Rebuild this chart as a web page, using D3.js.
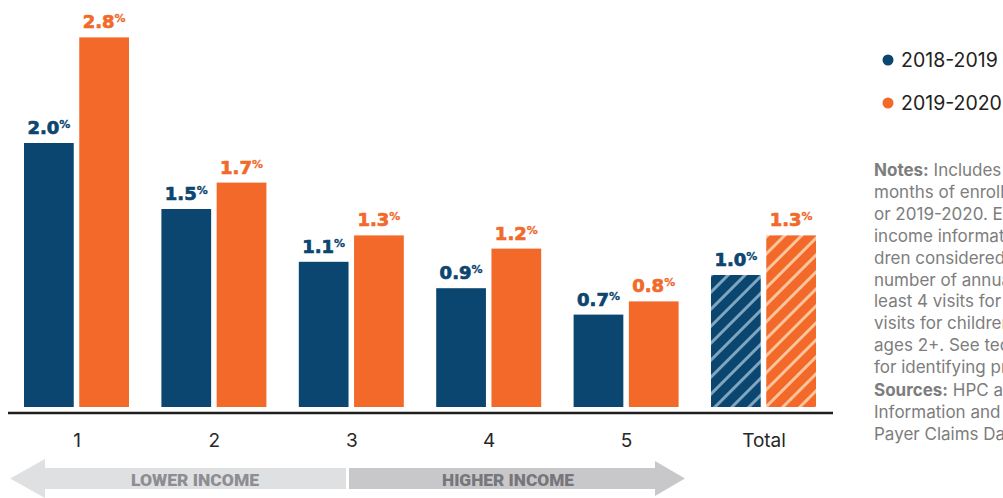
<!DOCTYPE html>
<html>
<head>
<meta charset="utf-8">
<script src="https://cdn.jsdelivr.net/npm/d3@7"></script>
<style>
  body { margin: 0; background: #fff; }
  #chart { display: block; width: 1003px; height: 498px; }
</style>
</head>
<body>
<svg id="chart" width="1003" height="498"></svg>
<script>
var categories = ["1", "2", "3", "4", "5", "Total"];
var seriesNames = ["2018-2019", "2019-2020"];
var values2018 = [2.0, 1.5, 1.1, 0.9, 0.7, 1.0];
var values2019 = [2.8, 1.7, 1.3, 1.2, 0.8, 1.3];
var incomeLabels = ["LOWER INCOME", "HIGHER INCOME"];
var noteLines = [
  ["Notes:", " Includes children with at least 12"],
  ["", "months of enrollment in either 2018-2019"],
  ["", "or 2019-2020. Excludes children without"],
  ["", "income information. Analysis limited to chil-"],
  ["", "dren considered high-utilizers based on"],
  ["", "number of annual visits: children with at"],
  ["", "least 4 visits for ages 0-1 and at least 3"],
  ["", "visits for children ages 1-2, and 2 visits for"],
  ["", "ages 2+. See technical appendix for methods"],
  ["", "for identifying primary care visits."]
];
var sourceLines = [
  ["Sources:", " HPC analysis of Center for Health"],
  ["", "Information and Analysis Massachusetts All-"],
  ["", "Payer Claims Database, 2018-2020."]
];

var color = {
  "2018-2019": "#0b4670",
  "2019-2020": "#f2692a"
};
var labelColor = {
  "2018-2019": "#0b4570",
  "2019-2020": "#f26a2b"
};
var stripeColor = {
  "2018-2019": "#7fa6c1",
  "2019-2020": "#fbc49c"
};

var svg = d3.select("#chart"),
    baseY = 407,
    axisY = 413;

var data = categories.map(function(c, i) {
  return {cat: c, values: [
    {id: seriesNames[0], v: values2018[i], total: c === "Total"},
    {id: seriesNames[1], v: values2019[i], total: c === "Total"}
  ]};
});

var xScale = d3.scalePoint().domain(categories).range([76.5, 763.5]);
var xSub = d3.scaleBand().domain(seriesNames).range([-52.5, 52.5]).paddingInner(0.1);
var yScale = d3.scaleLinear().domain([0, 2.8]).range([baseY, 37.4]);

// hatch patterns for the total bars
var defs = svg.append("defs");
seriesNames.forEach(function(s, i) {
  var p = defs.append("pattern")
      .attr("id", "hatch" + i)
      .attr("patternUnits", "userSpaceOnUse")
      .attr("width", 12)
      .attr("height", 12)
      .attr("patternTransform", "rotate(45)");
  p.append("rect").attr("width", 12).attr("height", 12).attr("fill", color[s]);
  p.append("rect").attr("x", 0).attr("width", 3).attr("height", 12).attr("fill", stripeColor[s]);
});

// bars
var group = svg.append("g").selectAll(".group")
  .data(data)
  .enter().append("g")
    .attr("class", "group")
    .attr("transform", function(d) { return "translate(" + xScale(d.cat) + ",0)"; });

group.selectAll("rect")
  .data(function(d) { return d.values; })
  .enter().append("rect")
    .attr("x", function(d) { return xSub(d.id); })
    .attr("width", xSub.bandwidth())
    .attr("y", function(d) { return yScale(d.v); })
    .attr("height", function(d) { return baseY - yScale(d.v); })
    .attr("fill", function(d) { return d.total ? "url(#hatch" + seriesNames.indexOf(d.id) + ")" : color[d.id]; });

// value labels
var lbl = group.selectAll(".val")
  .data(function(d) { return d.values; })
  .enter().append("text")
    .attr("class", "val")
    .attr("x", function(d) { return xSub(d.id) + xSub.bandwidth() / 2; })
    .attr("y", function(d) { return yScale(d.v) - 9; })
    .attr("text-anchor", "middle")
    .attr("font-family", "DejaVu Sans")
    .attr("font-weight", "bold")
    .attr("font-size", 18)
    .attr("fill", function(d) { return labelColor[d.id]; })
    .attr("stroke", function(d) { return labelColor[d.id]; })
    .attr("stroke-width", 0.7);
lbl.append("tspan").text(function(d) { return d3.format(".1f")(d.v); });
lbl.append("tspan").attr("font-size", 11).attr("dy", -6).attr("stroke-width", 0.3).text("%");

// axis
svg.append("line")
    .attr("x1", 8).attr("x2", 833)
    .attr("y1", axisY).attr("y2", axisY)
    .attr("stroke", "#1e1e1e")
    .attr("stroke-width", 2.5);

var xAxis = d3.axisBottom(xScale).tickSize(0).tickPadding(21);
svg.append("g")
    .attr("class", "axis axis--x")
    .attr("transform", "translate(0," + axisY + ")")
    .call(xAxis)
  .call(function(g) {
    g.select(".domain").remove();
    g.selectAll(".tick text")
      .attr("font-family", "Inter")
      .attr("font-size", 19)
      .attr("fill", "#262626");
  });

// income arrows
var arrowY = 478.5;
var arrows = [
  {label: incomeLabels[0], fill: "#dfe0e2", text: "#8d8d92", w: 128,
   pts: [[10, arrowY], [45, arrowY - 19.5], [45, arrowY - 10.5], [346, arrowY - 10.5], [346, arrowY + 10.5], [45, arrowY + 10.5], [45, arrowY + 19.5]], tx: 195},
  {label: incomeLabels[1], fill: "#c8c8ca", text: "#77767b", w: 132,
   pts: [[349, arrowY - 10.5], [655, arrowY - 10.5], [655, arrowY - 17.5], [685, arrowY], [655, arrowY + 17.5], [655, arrowY + 10.5], [349, arrowY + 10.5]], tx: 508}
];
var ag = svg.append("g").selectAll("g").data(arrows).enter().append("g");
ag.append("polygon")
    .attr("points", function(d) { return d.pts.map(function(p) { return p.join(","); }).join(" "); })
    .attr("fill", function(d) { return d.fill; });
ag.append("text")
    .attr("x", function(d) { return d.tx; })
    .attr("y", 485.5)
    .attr("text-anchor", "middle")
    .attr("font-family", "Roboto")
    .attr("font-weight", 900)
    .attr("font-size", 16)
    .attr("textLength", function(d) { return d.w; })
    .attr("lengthAdjust", "spacingAndGlyphs")
    .attr("fill", function(d) { return d.text; })
    .text(function(d) { return d.label; });

// legend
var legend = svg.append("g").selectAll("g")
  .data(seriesNames)
  .enter().append("g")
    .attr("transform", function(d, i) { return "translate(888," + (60 + i * 43) + ")"; });
legend.append("circle").attr("r", 5.5).attr("fill", function(d) { return color[d]; });
legend.append("text")
    .attr("x", 13)
    .attr("y", 7)
    .attr("font-family", "Inter")
    .attr("font-size", 19.5)
    .attr("fill", "#222")
    .text(function(d) { return d; });

// notes
function block(lines, y0) {
  var t = svg.append("text")
      .attr("font-family", "Inter")
      .attr("font-size", 17)
      .attr("fill", "#7d7d7d");
  lines.forEach(function(l, i) {
    var row = t.append("tspan").attr("x", 874).attr("y", y0 + i * 21.9);
    if (l[0]) row.append("tspan").attr("font-weight", "bold").text(l[0]);
    row.append("tspan").text(l[1]);
  });
}
block(noteLines, 176);
block(sourceLines, 396);
</script>
</body>
</html>
